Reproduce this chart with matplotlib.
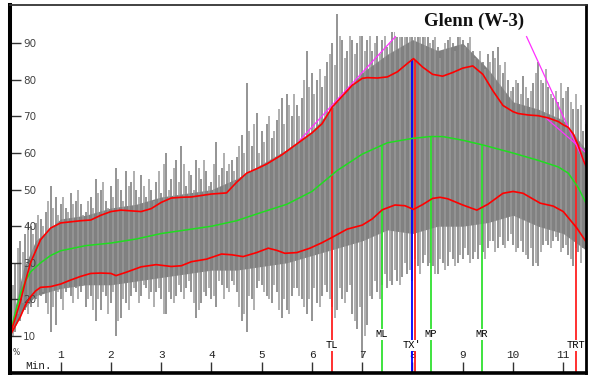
import numpy as np
import matplotlib
matplotlib.use("Agg")
import matplotlib.pyplot as plt

# ---- signal envelope: spike tops and bottoms, % ----
# primary samples every 0.1 min
spike_t = [round(0.1 * i, 2) for i in range(115)]
spike_hi = [14, 30, 36, 38, 40, 41, 42, 44, 51, 48,
            46, 45, 49, 47, 46, 44, 48, 53, 50, 47,
            51, 56, 50, 55, 52, 50, 54, 48, 50, 52,
            49, 60, 53, 58, 62, 51, 54, 58, 53, 55,
            52, 63, 56, 55, 58, 59, 65, 79, 62, 71,
            66, 68, 64, 69, 75, 76, 70, 73, 75, 88,
            82, 80, 78, 85, 90, 98, 91, 88, 91, 90,
            92, 91, 88, 92, 91, 89, 93, 93, 93, 93,
            93, 93, 93, 93, 91, 89, 88, 91, 90, 93,
            91, 90, 88, 84, 85, 87, 88, 89, 82, 80,
            78, 79, 81, 75, 79, 85, 79, 78, 75, 74,
            75, 78, 72, 72, 66]
spike_lo = [9, 11, 14, 17, 18, 20, 21, 19, 11, 13,
            20, 22, 21, 23, 22, 18, 21, 14, 17, 21,
            19, 10, 15, 19, 21, 22, 21, 23, 22, 22,
            20, 16, 20, 21, 22, 23, 22, 15, 19, 21,
            20, 18, 24, 23, 25, 22, 14, 11, 20, 23,
            24, 21, 19, 22, 15, 17, 21, 23, 20, 16,
            14, 19, 21, 22, 18, 17, 20, 22, 16, 12,
            4, 13, 20, 22, 24, 23, 24, 25, 26, 27,
            25, 29, 30, 29, 29, 27, 30, 29, 31, 30,
            31, 32, 31, 31, 33, 34, 36, 34, 35, 36,
            35, 34, 33, 31, 29, 29, 35, 35, 36, 36,
            34, 32, 29, 33, 34]
# in-between samples (0.05, 0.15, ...)
spike2_t = [round(0.05 + 0.1 * i, 2) for i in range(115)]
spike2_hi = [24, 34, 33, 41, 38, 43, 40, 47, 45, 43,
             48, 44, 46, 50, 43, 47, 45, 49, 52, 45,
             48, 53, 47, 51, 55, 48, 51, 53, 47, 55,
             57, 50, 56, 52, 57, 55, 50, 56, 58, 51,
             57, 54, 60, 57, 55, 62, 60, 66, 68, 60,
             63, 70, 66, 72, 68, 73, 76, 70, 80, 78,
             76, 83, 81, 87, 84, 92, 86, 92, 87, 92,
             88, 92, 90, 87, 92, 90, 93, 93, 93, 93,
             93, 93, 93, 90, 92, 86, 90, 92, 88, 93,
             89, 93, 86, 88, 83, 85, 86, 84, 85, 77,
             80, 76, 78, 77, 82, 80, 83, 76, 77, 79,
             77, 74, 76, 73, 68]
spike2_lo = [10, 16, 19, 16, 21, 18, 22, 16, 18, 22,
             17, 23, 19, 20, 24, 20, 17, 20, 22, 16,
             22, 14, 20, 17, 23, 19, 24, 20, 18, 23,
             16, 22, 19, 24, 20, 25, 19, 17, 22, 23,
             21, 25, 20, 22, 24, 18, 16, 21, 17, 25,
             22, 20, 24, 17, 20, 16, 23, 21, 18, 20,
             23, 18, 24, 20, 15, 23, 19, 24, 14, 18,
             10, 21, 25, 20, 27, 25, 28, 24, 30, 28,
             31, 27, 32, 30, 27, 31, 28, 33, 29, 32,
             34, 30, 33, 35, 31, 36, 33, 37, 34, 38,
             33, 36, 32, 34, 30, 33, 36, 34, 37, 33,
             35, 31, 34, 30, 35]

# dense core of the trace
core_t = [0, 0.25, 0.5, 1.0, 1.5, 2.0, 2.5, 3.0, 3.5, 4.0, 4.5, 5.0, 5.5,
          6.0, 6.5, 7.0, 7.5, 8.0, 8.5, 9.0, 9.5, 10.0, 10.5, 11.0, 11.5]
core_lo = [10, 17, 21, 23, 24, 24, 25, 26, 27, 28, 28, 29, 30,
           32, 34, 36, 39, 38, 40, 40, 41, 43, 40, 38, 33]
core_hi = [12, 28, 36, 42, 43, 45, 46, 48, 49, 50, 53, 57, 61,
           66, 74, 82, 87, 91, 88, 90, 83, 74, 72, 69, 60]

# ---- mean curve (green) ----
mean_t = [0, 0.1, 0.2, 0.3, 0.4, 0.6, 0.8, 1.0, 1.5, 2.0, 2.5, 3.0, 3.5,
          4.0, 4.5, 5.0, 5.5, 6.0, 6.5, 7.0, 7.5, 8.0, 8.35, 8.6, 9.0,
          9.4, 10.0, 10.5, 10.9, 11.1, 11.3, 11.5]
mean_v = [11, 16.5, 21.5, 25, 27.5, 30, 32, 33.3, 34.7, 35.4, 36.5, 38, 39,
          40, 41.5, 43.8, 46, 49.5, 55.2, 59.7, 62.8, 64, 64.5, 64.5, 63.5,
          62.2, 60, 58, 56.2, 54.5, 50.5, 45]

# ---- upper band (red) ----
up_t = [0, 0.1, 0.2, 0.3, 0.4, 0.6, 0.8, 1.0, 1.2, 1.4, 1.6, 1.8, 2.0, 2.2,
        2.4, 2.6, 2.8, 3.0, 3.2, 3.4, 3.6, 3.8, 4.0, 4.3, 4.5, 4.7, 4.9,
        5.1, 5.4, 5.7, 6.0, 6.2, 6.4, 6.6, 6.8, 7.0, 7.1, 7.3, 7.5, 7.7,
        7.9, 8.02, 8.2, 8.4, 8.6, 8.8, 9.0, 9.2, 9.4, 9.6, 9.8, 10.0, 10.1,
        10.3, 10.5, 10.7, 10.9, 11.0, 11.1, 11.2, 11.3, 11.4, 11.5]
up_v = [10.7, 15, 19.5, 25, 30, 36.3, 39.5, 40.9, 41.2, 41.5, 41.7, 43, 44,
        44.4, 44.2, 44, 44.8, 46.5, 47.7, 47.9, 48, 48.4, 48.8, 49.1, 52,
        54.5, 55.7, 57, 59.5, 62.5, 65.5, 68, 72.5, 75.5, 78.5, 80.4, 80.6,
        80.5, 80.8, 82.2, 84.5, 85.8, 83.5, 81.5, 81, 82, 83.2, 83.8, 81.5,
        77, 73, 71.3, 70.8, 70.4, 70.2, 69.6, 68.6, 67.7, 67, 65.2, 62,
        58, 55]

# ---- lower band (red) ----
lo_t = [0, 0.1, 0.2, 0.3, 0.4, 0.5, 0.6, 0.8, 1.0, 1.2, 1.4, 1.6, 1.8, 2.0,
        2.1, 2.3, 2.6, 2.9, 3.2, 3.4, 3.6, 3.9, 4.2, 4.4, 4.63, 4.9, 5.13,
        5.3, 5.46, 5.7, 5.96, 6.2, 6.42, 6.7, 7.0, 7.2, 7.4, 7.65, 7.85,
        8.02, 8.2, 8.4, 8.55, 8.7, 9.0, 9.28, 9.5, 9.8, 10.0, 10.2, 10.54,
        10.8, 11.0, 11.27, 11.5]
lo_v = [10.3, 12.8, 15.3, 18.5, 20.7, 22.3, 23.3, 23.5, 24.2, 25.3, 26.3,
        27.1, 27.2, 27.1, 26.5, 27.4, 28.9, 29.5, 29, 29.2, 30.3, 31, 32.4,
        32.2, 31.7, 32.8, 34, 33.4, 32.6, 32.8, 34, 35.5, 37.1, 39.2, 40.3,
        42, 44.5, 45.8, 45.6, 44.6, 45.9, 47.6, 47.9, 47.5, 45.8, 44.4, 46,
        49, 49.5, 49, 46.3, 45.5, 44, 39.5, 34.8]

# ---- trend lines (magenta) ----
trend_rise_t = [5.75, 7.66]
trend_rise_v = [63.4, 91.8]
trend_fall_a_t = [10.27, 11.5]
trend_fall_a_v = [91.8, 55.0]
trend_fall_b_t = [10.67, 11.5]
trend_fall_b_v = [69.4, 59.5]

# ---- event markers ----
marker_names = ["TL", "ML", "TX'", "MP", "MR", "TRT"]
marker_t = [6.39, 7.39, 8.00, 8.37, 9.38, 11.25]
marker_curve = ["up", "mean", "up", "mean", "mean", "up"]
marker_color = ["#ff2020", "#30e030", "#0000ff", "#30e030", "#30e030", "#ff2020"]
marker_row = [0, 1, 0, 1, 1, 0]
tx_red_t = 8.04

x_ticks = list(range(1, 12))
y_ticks = list(range(10, 100, 10))
title = "Glenn (W-3)"

W, H = 589, 375
fig = plt.figure(figsize=(W / 100, H / 100), dpi=100)
ax = fig.add_axes([10 / W, 2.4 / H, 576 / W, 367.6 / H])
ax.set_xlim(-0.008, 11.452)
ax.set_ylim(0, 100.45)

ax.fill_between(core_t, core_lo, core_hi, color="#808080", lw=0, zorder=1)
ax.vlines(spike2_t, spike2_lo, spike2_hi, colors="#9a9a9a", lw=1.1, zorder=1.1)
ax.vlines(spike_t, spike_lo, spike_hi, colors="#828282", lw=1.2, zorder=1.2)

# white patch behind the title
ax.fill_between([7.65, 10.27], [91.7, 91.7], [101, 101], color="white",
                lw=0, zorder=2)

ax.plot(trend_rise_t, trend_rise_v, color="#ff30ff", lw=0.9, zorder=2.5)
ax.plot(trend_fall_a_t, trend_fall_a_v, color="#ff30ff", lw=0.9, zorder=3.5)
ax.plot(trend_fall_b_t, trend_fall_b_v, color="#ff30ff", lw=0.9, zorder=3.5)

curves = {"up": (up_t, up_v), "mean": (mean_t, mean_v)}
for name, t, cname, col, row in zip(marker_names, marker_t, marker_curve,
                                    marker_color, marker_row):
    ct, cv = curves[cname]
    top = float(np.interp(t, ct, cv))
    ax.vlines(t, 0, top, colors=col, lw=1.3, zorder=3)
    ax.text(t, 7.5 if row == 0 else 10.5, name, ha="center", va="center",
            family="Liberation Mono", fontsize=7.5, color="black", zorder=5,
            bbox=dict(facecolor="white", edgecolor="none", pad=0.3))
ax.vlines(tx_red_t, 0, float(np.interp(tx_red_t, up_t, up_v)),
          colors="#ff2020", lw=1.3, zorder=2.9)

ax.plot(mean_t, mean_v, color="#20dd20", lw=1.1, zorder=4)
ax.plot(up_t, up_v, color="#ff0000", lw=1.2, zorder=4)
ax.plot(lo_t, lo_v, color="#ff0000", lw=1.2, zorder=4)

ax.text(9.22, 96.0, title, ha="center", va="center", family="Liberation Serif",
        fontweight="bold", fontsize=13.5, color="#111111", zorder=6)

# axes furniture
ax.set_xticks(x_ticks)
ax.set_yticks(y_ticks)
ax.tick_params(axis="both", direction="in", length=8, width=1,
               color="#333333")
ax.tick_params(axis="y", pad=-9.5, labelsize=7.5, labelcolor="#444444")
ax.tick_params(axis="x", pad=-12.5, labelsize=8, labelcolor="#222222")
for lab in ax.get_yticklabels():
    lab.set_ha("left")
    lab.set_family("DejaVu Sans")
for lab in ax.get_xticklabels():
    lab.set_va("center")
    lab.set_family("Liberation Mono")

ax.text(0.11, 5.6, "%", ha="center", va="center", fontsize=5.5,
        color="#333333", family="DejaVu Sans")
ax.text(0.55, 1.9, "Min.", ha="center", va="center", fontsize=8,
        family="Liberation Mono", color="#222222")

ax.spines["left"].set_linewidth(2.9)
ax.spines["bottom"].set_linewidth(2.6)
ax.spines["right"].set_linewidth(2.0)
ax.spines["top"].set_linewidth(1.3)
ax.spines["top"].set_color("#333333")
for s in ax.spines.values():
    s.set_zorder(7)

fig.savefig("out.png", dpi=100)
